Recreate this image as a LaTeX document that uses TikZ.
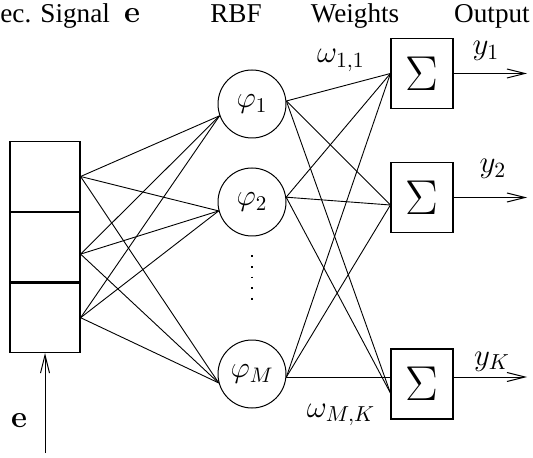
\documentclass[tikz,border=0pt]{standalone}
\usepackage{fix-cm}
\usepackage[no-math]{fontspec}
\setmainfont{Liberation Serif}
\usepackage{tikz}
\usetikzlibrary{positioning,arrows.meta}

\begin{document}
\begin{tikzpicture}[x=0.5pt, y=-0.5pt,
      font=\fontsize{13.6}{15}\selectfont,
      cell/.style={draw, line width=0.6pt, minimum width=35pt, minimum height=34.7pt, inner sep=0pt},
      rbf/.style={draw, circle, line width=0.5pt, minimum size=34pt, inner sep=0pt,
                  font=\fontsize{15}{17}\selectfont},
      sumbox/.style={draw, line width=0.6pt, minimum width=31pt, minimum height=35pt,
                     inner sep=0pt, font=\fontsize{24.5}{26}\selectfont},
      link/.style={line width=0.45pt},
      arr/.style={-{Straight Barb[length=9pt, width=4.5pt]}, line width=0.5pt},
      head/.style={anchor=base},
      lab/.style={anchor=base, font=\fontsize{15.5}{17}\selectfont}]
    \useasboundingbox (0,0) rectangle (533,458);
    % headings
    \node[head, anchor=base west, inner sep=0pt] (hsig) at (0,23) {ec. Signal};
    \node[lab] (hvec) at (132,23) {$\mathbf{e}$};
    \node[head] (hrbf) at (236,23) {RBF};
    \node[head] (hw) at (355,23) {Weights};
    \node[head] (hout) at (492,23) {Output};
    % input register
    \node[cell] (cell1) at (45,176.5) {};
    \node[cell, below=0pt of cell1] (cell2) {};
    \node[cell, below=0pt of cell2] (cell3) {};
    \coordinate (src) at (45,453);
    \draw[arr] (src) -- (cell3.south);
    \node[lab] (le) at (19,427) {$\mathbf{e}$};
    % hidden layer
    \node[rbf] (phi1) at (252,104) {$\varphi_1$};
    \node[rbf] (phi2) at (252,202) {$\varphi_2$};
    \node[rbf] (phiM) at (252,374) {$\varphi_M$};
    \draw[line width=0.6pt, dash pattern=on 0.8pt off 4.5pt]
      ([yshift=-9.5pt]phi2.south) -- ([yshift=16pt]phiM.north);
    % summing units
    \node[sumbox] (sum1) at (422,73.5) {$\Sigma$};
    \node[sumbox] (sum2) at (422,197.5) {$\Sigma$};
    \node[sumbox] (sumK) at (422,384) {$\Sigma$};
    % input -> rbf
    \coordinate (in1) at (cell1.east);
    \coordinate (in2) at ([yshift=-3.5pt]cell2.east);
    \coordinate (in3) at (cell3.east);
    \foreach \s in {in1,in2,in3}
      \foreach \t in {phi1.200,phi2.195,phiM.195}
        \draw[link] (\s) -- (\t);
    % rbf -> sums
    \coordinate (s1) at (sum1.west);
    \coordinate (s2) at ([yshift=-3.75pt]sum2.west);
    \coordinate (sK) at ([yshift=-4.5pt]sumK.west);
    \foreach \s in {phi1.5,phi2.8}
      \foreach \t in {s1,s2,sK}
        \draw[link] (\s) -- (\t);
    \draw[link] (phiM.355) -- (s1);
    \draw[link] (phiM.355) -- (s2);
    \draw[link] (phiM.355) -- (phiM.355 -| sumK.west);
    \node[lab] (w11) at (341,63) {$\omega_{1,1}$};
    \node[lab] (wMK) at (341,417) {$\omega_{M,K}$};
    % outputs
    \coordinate (out1) at (527,73.5);
    \coordinate (out2) at (527,197.5);
    \coordinate (outK) at (527,377);
    \draw[arr] (sum1.east) -- (out1);
    \draw[arr] (sum2.east) -- (out2);
    \draw[arr] (outK -| sumK.east) -- (outK);
    \node[lab] (ly1) at (486,55) {$y_1$};
    \node[lab] (ly2) at (493,173) {$y_2$};
    \node[lab] (lyK) at (492,365) {$y_K$};
  \end{tikzpicture}
\end{document}
